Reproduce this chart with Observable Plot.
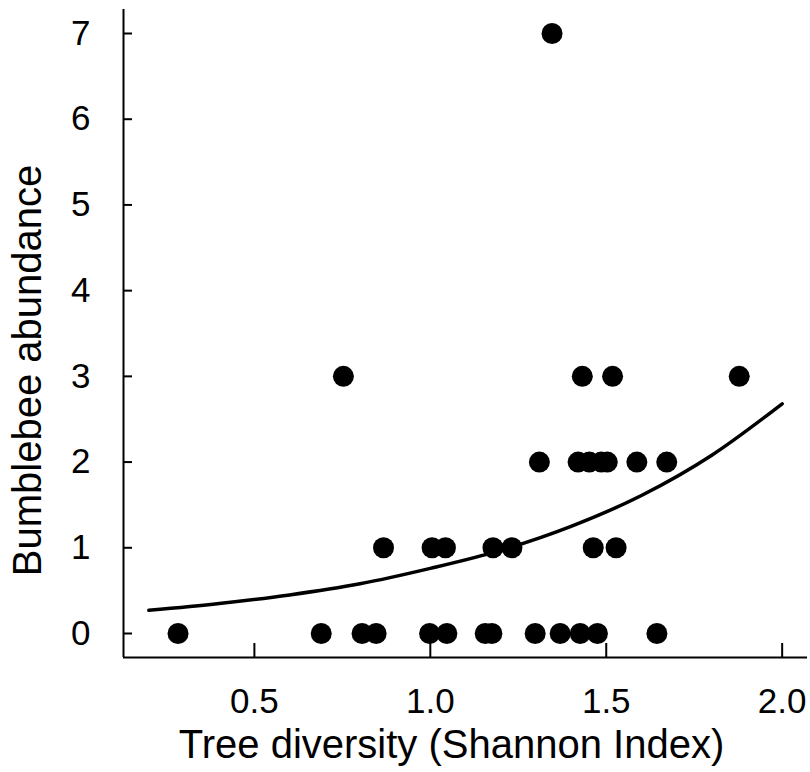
<!DOCTYPE html>
<html>
<head>
<meta charset="utf-8">
<script src="https://cdn.jsdelivr.net/npm/d3@7"></script>
<script src="https://cdn.jsdelivr.net/npm/@observablehq/plot@0.6"></script>
<style>
  html, body { margin: 0; padding: 0; background: #fff; }
  #chart svg { display: block; }
</style>
</head>
<body>
<div id="chart"></div>
<script>
// Observed sites: tree diversity (Shannon index) and bumblebee abundance
const treeDiversity = [
  0.283, 0.690, 0.806, 0.846, 0.998, 1.047, 1.156, 1.175, 1.298, 1.369, 1.426, 1.475, 1.644,
  0.867, 1.005, 1.043, 1.178, 1.232, 1.463, 1.528,
  1.310, 1.420, 1.452, 1.486, 1.503, 1.587, 1.672,
  0.753, 1.432, 1.518, 1.878,
  1.346
];
const bumblebeeAbundance = [
  0, 0, 0, 0, 0, 0, 0, 0, 0, 0, 0, 0, 0,
  1, 1, 1, 1, 1, 1, 1,
  2, 2, 2, 2, 2, 2, 2,
  3, 3, 3, 3,
  7
];

// Fitted curve
const fitX = [0.2, 0.4, 0.6, 0.8, 1.0, 1.2, 1.4, 1.6, 1.8, 2.0];
const fitY = [0.27, 0.35, 0.45, 0.58, 0.76, 0.97, 1.25, 1.61, 2.08, 2.68];

const xTicks = [0.5, 1.0, 1.5, 2.0];
const yTicks = [0, 1, 2, 3, 4, 5, 6, 7];
const xDomain = [0.128, 2.072];
const yDomain = [-0.28, 7.28];
const xTitle = "Tree diversity (Shannon Index)";
const yTitle = "Bumblebee abundance";

const points = treeDiversity.map((x, i) => ({x, y: bumblebeeAbundance[i]}));
const fit = fitX.map((x, i) => ({x, y: fitY[i]}));

const chart = Plot.plot({
  width: 810,
  height: 772,
  marginLeft: 123,
  marginRight: 3,
  marginTop: 9,
  marginBottom: 115,
  style: {fontFamily: "'Liberation Sans', Arial, Helvetica, sans-serif", fontSize: "35px", color: "#000", background: "#fff"},
  x: {domain: xDomain},
  y: {domain: yDomain},
  marks: [
    Plot.axisX(xTicks, {tickSize: -14, tickPadding: 45, tickFormat: d => d.toFixed(1), label: null, strokeWidth: 2, fontSize: 35}),
    Plot.axisY(yTicks, {tickSize: -9, tickPadding: 42, tickFormat: d => String(d), label: null, strokeWidth: 2, fontSize: 35}),
    Plot.ruleY([yDomain[0]], {stroke: "#000", strokeWidth: 2}),
    Plot.ruleX([xDomain[0]], {stroke: "#000", strokeWidth: 2}),
    Plot.line(fit, {x: "x", y: "y", curve: "monotone-x", stroke: "#000", strokeWidth: 3.5}),
    Plot.dot(points, {x: "x", y: "y", r: 10.5, fill: "#000", stroke: null}),
    Plot.text([xTitle], {frameAnchor: "bottom", lineAnchor: "middle", textAnchor: "middle", dx: -14, dy: 88, fontSize: 40, fill: "#000"}),
    Plot.text([yTitle], {frameAnchor: "left", rotate: -90, lineAnchor: "middle", textAnchor: "middle", dx: -95, dy: 37, fontSize: 40, fill: "#000"})
  ]
});
document.getElementById("chart").appendChild(chart);
</script>
</body>
</html>
